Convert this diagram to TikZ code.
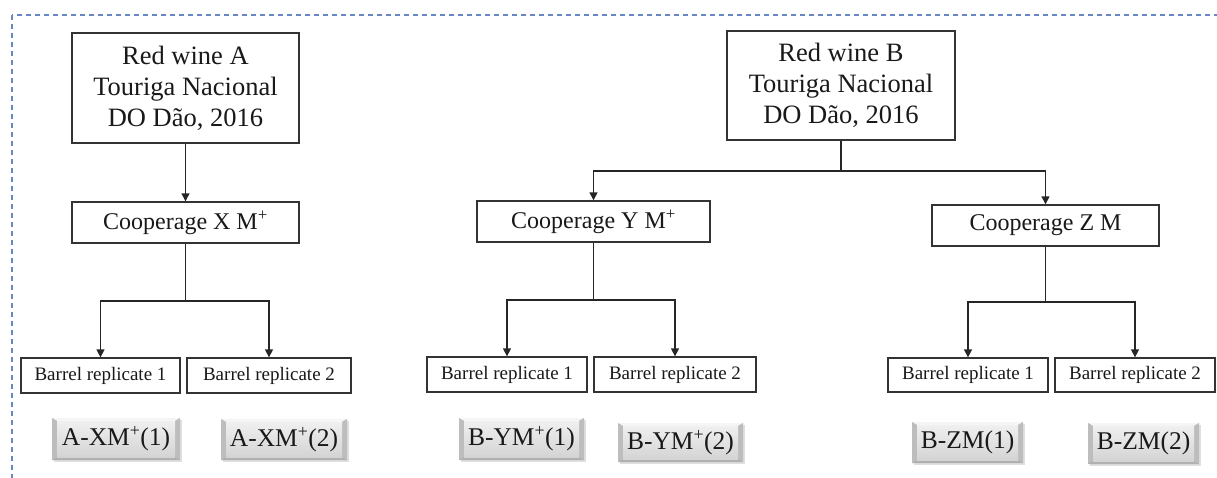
\documentclass[tikz,border=0pt]{standalone}
\usepackage{fontspec}
\setmainfont{Liberation Serif}
\usetikzlibrary{arrows.meta,shadows}
\definecolor{framecol}{RGB}{105,135,195}
\begin{document}
\begin{tikzpicture}[x=1pt,y=-1pt,
  every node/.style={inner sep=0pt, text=black!90},
  bigbox/.style={draw=black!80, line width=1.4pt, align=center, fill=white,
    font=\fontsize{26.5}{31}\selectfont},
  coopbox/.style={draw=black!80, line width=1.4pt, fill=white,
    font=\fontsize{24}{28}\selectfont, minimum height=41pt},
  barrelbox/.style={draw=black!80, line width=1.3pt, fill=white,
    font=\fontsize{19}{22}\selectfont},
  btn/.style={fill=gray!40,
    font=\fontsize{25.5}{28}\selectfont,
    drop shadow={shadow xshift=1.5pt, shadow yshift=-2pt, opacity=0.25},
    path picture={
      \coordinate (NW) at (path picture bounding box.north west);
      \coordinate (NE) at (path picture bounding box.north east);
      \coordinate (SW) at (path picture bounding box.south west);
      \coordinate (SE) at (path picture bounding box.south east);
      \coordinate (iNW) at ([shift={(5pt,-3pt)}]NW);
      \coordinate (iNE) at ([shift={(-5pt,-3pt)}]NE);
      \coordinate (iSW) at ([shift={(5pt,3pt)}]SW);
      \coordinate (iSE) at ([shift={(-5pt,3pt)}]SE);
      \fill[gray!8] (NW) -- (NE) -- (iNE) -- (iNW) -- cycle;
      \fill[gray!52] (NW) -- (iNW) -- (iSW) -- (SW) -- cycle;
      \fill[gray!52] (NE) -- (iNE) -- (iSE) -- (SE) -- cycle;
      \fill[gray!62] (SW) -- (iSW) -- (iSE) -- (SE) -- cycle;
      \fill[top color=gray!12, bottom color=gray!34] (iNW) rectangle (iSE);
    }},
  conn/.style={draw=black!85, line width=1.4pt},
  arr/.style={conn, -{Triangle[length=8pt,width=8pt]}},
  frame/.style={draw=framecol, line width=1.2pt, dash pattern=on 5pt off 4pt}
]
\useasboundingbox (0,0) rectangle (1217,477);
\draw[frame] (12,15) rectangle (1240,520);

% wine A branch
\node[bigbox, minimum width=227pt, minimum height=110pt] (wa) at (185.5,88)
  {Red wine A\\Touriga Nacional\\DO Dão, 2016};
\node[coopbox, minimum width=227pt] (cx) at (185.5,222.5) {Cooperage X M\textsuperscript{+}};
\node[barrelbox, minimum width=159pt, minimum height=35pt] (a1) at (100.5,375.5) {Barrel replicate 1};
\node[barrelbox, minimum width=164pt, minimum height=35pt] (a2) at (269,375.5) {Barrel replicate 2};
\node[btn, minimum width=128pt, minimum height=42pt] (ba1) at (116,439) {A-XM\textsuperscript{+}(1)};
\node[btn, minimum width=126pt, minimum height=41pt] (ba2) at (284,439.5) {A-XM\textsuperscript{+}(2)};

% wine B branch
\node[bigbox, minimum width=228pt, minimum height=109pt] (wb) at (841,85.5)
  {Red wine B\\Touriga Nacional\\DO Dão, 2016};
\node[coopbox, minimum width=233pt] (cy) at (593.5,221.5) {Cooperage Y M\textsuperscript{+}};
\node[coopbox, minimum width=227pt] (cz) at (1045.5,225.5) {Cooperage Z M};
\node[barrelbox, minimum width=160pt, minimum height=35pt] (y1) at (507,374.5) {Barrel replicate 1};
\node[barrelbox, minimum width=162pt, minimum height=35pt] (y2) at (675,374.5) {Barrel replicate 2};
\node[barrelbox, minimum width=160pt, minimum height=34pt] (z1) at (968,375) {Barrel replicate 1};
\node[barrelbox, minimum width=160pt, minimum height=34pt] (z2) at (1135,375) {Barrel replicate 2};
\node[btn, minimum width=125pt, minimum height=42pt] (by1) at (521.5,439) {B-YM\textsuperscript{+}(1)};
\node[btn, minimum width=125pt, minimum height=39pt] (by2) at (680.5,442.5) {B-YM\textsuperscript{+}(2)};
\node[btn, minimum width=111pt, minimum height=41pt] (bz1) at (967.5,442.5) {B-ZM(1)};
\node[btn, minimum width=111pt, minimum height=41pt] (bz2) at (1143.5,443.5) {B-ZM(2)};

% fork points
\coordinate (fx) at (185.5,301);
\coordinate (fb) at (841,171);
\coordinate (fy) at (593.5,300);
\coordinate (fz) at (1045.5,302);

% connectors
\draw[arr] (wa.south) -- (cx.north);
\draw[conn] (cx.south) -- (fx);
\draw[arr] (fx) -| (a1.north);
\draw[arr] (fx) -| (a2.north);

\draw[conn] (wb.south) -- (fb);
\draw[arr] (fb) -| (cy.north);
\draw[arr] (fb) -| (cz.north);

\draw[conn] (cy.south) -- (fy);
\draw[arr] (fy) -| (y1.north);
\draw[arr] (fy) -| (y2.north);

\draw[conn] (cz.south) -- (fz);
\draw[arr] (fz) -| (z1.north);
\draw[arr] (fz) -| (z2.north);
\end{tikzpicture}
\end{document}
